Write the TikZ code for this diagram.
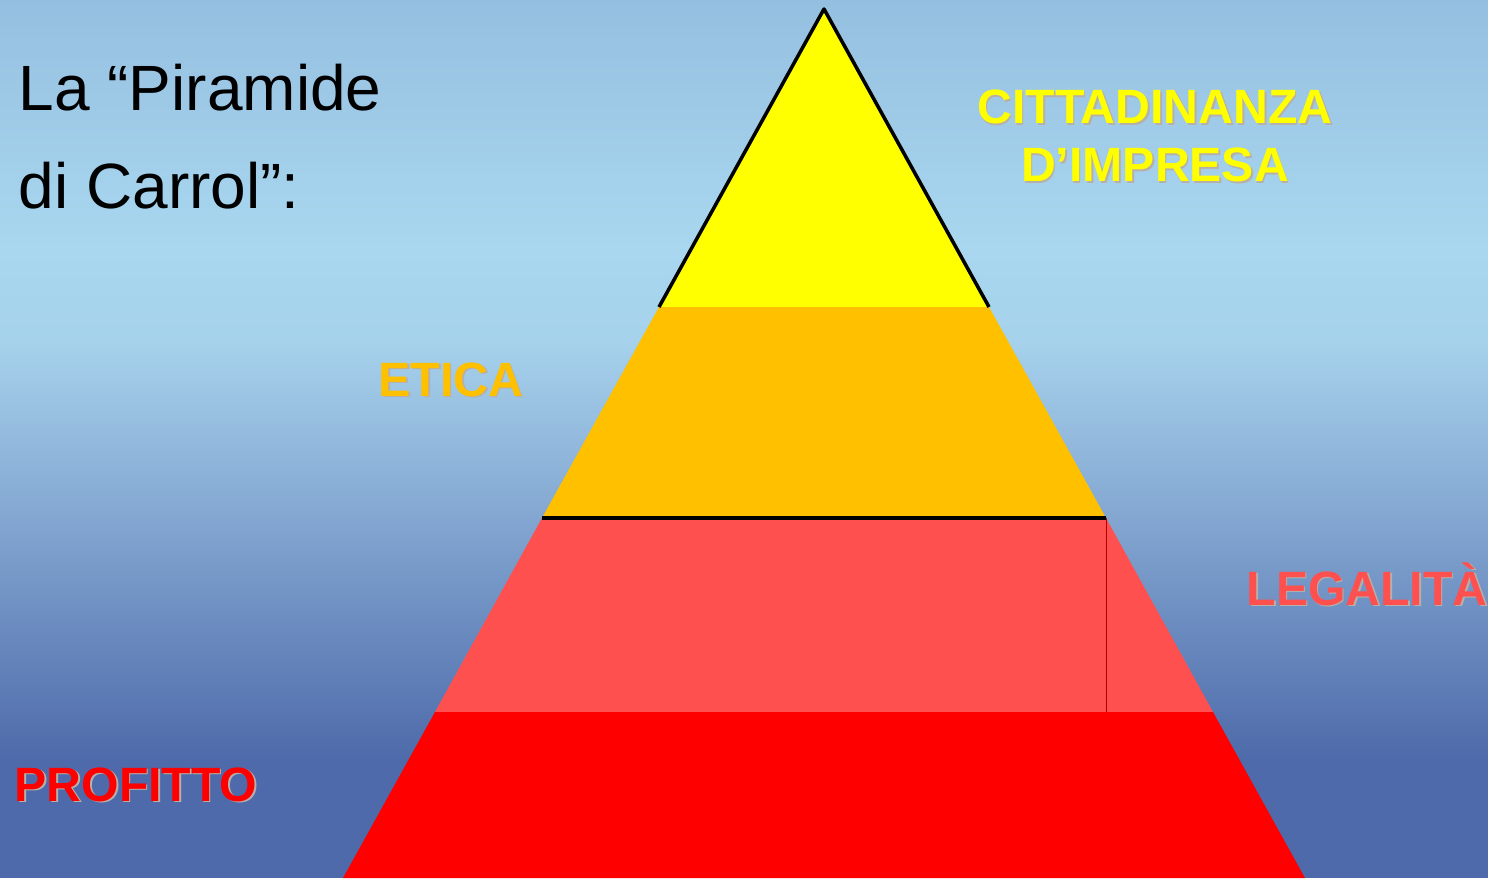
\documentclass[tikz,border=0pt]{standalone}
\usepackage{fontspec}
\setmainfont{Liberation Sans}
\usetikzlibrary{calc}

\definecolor{bgA}{HTML}{95BFE0}
\definecolor{bgB}{HTML}{A9D7EF}
\definecolor{bgC}{HTML}{A6D2EC}
\definecolor{bgD}{HTML}{8BB0D7}
\definecolor{bgE}{HTML}{4E6AAA}
\definecolor{cyellow}{HTML}{FFFF00}
\definecolor{corange}{HTML}{FFC000}
\definecolor{clightred}{HTML}{FF5050}
\definecolor{cred}{HTML}{FF0000}
\definecolor{shadowgray}{HTML}{B8B0A8}

\begin{document}
\begin{tikzpicture}[x=0.01cm, y=-0.01cm,
    title/.style={font=\fontsize{18.2}{27.9}\selectfont, align=left, inner sep=0pt},
    lbl/.style={font=\bfseries\fontsize{13.7}{16.5}\selectfont, align=center, inner sep=0pt},
    shadow/.style={lbl, text=shadowgray}]

    % Frame
    \useasboundingbox (0,0) rectangle (1488,878);

    % Background
    \shade[top color=bgA, bottom color=bgB] (0,0) rectangle (1488,250);
    \shade[top color=bgB, bottom color=bgC] (0,250) rectangle (1488,340);
    \shade[top color=bgC, bottom color=bgD] (0,340) rectangle (1488,480);
    \shade[top color=bgD, bottom color=bgE] (0,480) rectangle (1488,760);
    \fill[bgE] (0,760) rectangle (1488,878);

    % Corners of the layers
    \coordinate (apex) at (824,9);
    \coordinate (l1) at (659,307);
    \coordinate (r1) at (989,307);
    \coordinate (l2) at (542,518);
    \coordinate (r2) at (1106,518);
    \coordinate (l3) at (435,712);
    \coordinate (r3) at (1213,712);
    \coordinate (l4) at (343,878);
    \coordinate (r4) at (1305,878);

    % Layers
    \fill[cyellow] (apex) -- (l1) -- (r1) -- cycle;
    \fill[corange] (l1) -- (l2) -- (r2) -- (r1) -- cycle;
    \fill[clightred] (l2) -- (l3) -- (r3) -- (r2) -- cycle;
    \fill[cred] (l3) -- (l4) -- (r4) -- (r3) -- cycle;

    % Outlines
    \draw[line width=1pt, line join=round] (l1) -- (apex) -- (r1);
    \draw[line width=1pt] (l2) -- (r2);
    \draw[red!70!black, line width=0.2pt] (r2) -- (r2 |- l3);

    % Title
    \node[title, anchor=north west] (title) at (18,63) {La “Piramide\\di Carrol”:};

    % Labels
    \node[shadow] (cittS) at (1156.5,137.5) {CITTADINANZA\\D’IMPRESA};
    \node[lbl, text=cyellow] (citt) at (1155,136) {CITTADINANZA\\D’IMPRESA};

    \node[shadow, anchor=base west] (eticaS) at (379.5,397.5) {ETICA};
    \node[lbl, text=corange, anchor=base west] (etica) at (378,396) {ETICA};

    \node[shadow, anchor=base west] (legS) at (1247.5,606.5) {LEGALITÀ};
    \node[lbl, text=clightred, anchor=base west] (leg) at (1246,605) {LEGALITÀ};

    \node[shadow, anchor=base west] (profS) at (15.5,802.5) {PROFITTO};
    \node[lbl, text=cred, anchor=base west] (prof) at (14,801) {PROFITTO};

\end{tikzpicture}
\end{document}
